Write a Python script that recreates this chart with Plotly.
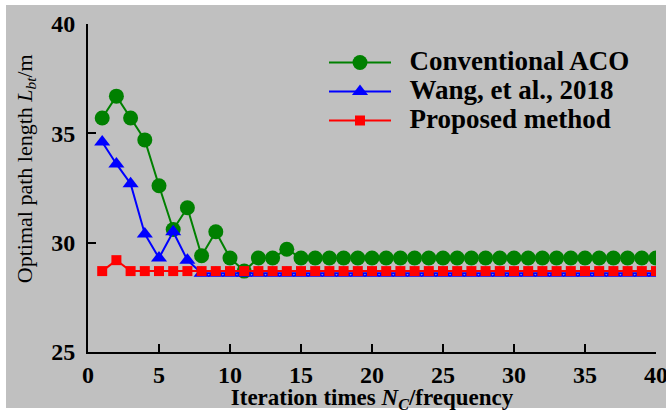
import plotly.graph_objects as go

iterations = list(range(1, 41))
conventional_aco = [35.7, 36.7, 35.7, 34.7, 32.6, 30.6, 31.6, 29.4, 30.5, 29.3,
                    28.7, 29.3, 29.3, 29.7] + [29.3] * 26
wang_2018 = [34.6, 33.6, 32.7, 30.4, 29.3, 30.5, 29.2] + [28.6] * 33
proposed = [28.7, 29.2] + [28.7] * 38
series_names = ["Conventional ACO", "Wang, et al., 2018", "Proposed method"]

x_ticks = [0, 5, 10, 15, 20, 25, 30, 35, 40]
y_ticks = [25, 30, 35, 40]

FONT = "Liberation Serif, Times New Roman, serif"
GRAY = "#C0C0C0"

def legend_name(s):
    return ('<span style="font-size:27px">&nbsp;&nbsp;<b>' + s + '</b></span>')

fig = go.Figure()
fig.add_trace(go.Scatter(x=iterations, y=conventional_aco, mode="lines+markers",
                         name=legend_name(series_names[0]),
                         line=dict(color="#008000", width=2),
                         marker=dict(symbol="circle", size=15, color="#008000")))
fig.add_trace(go.Scatter(x=iterations, y=wang_2018, mode="lines+markers",
                         name=legend_name(series_names[1]),
                         line=dict(color="#0000FF", width=2),
                         marker=dict(symbol="triangle-up", size=14, color="#0000FF")))
fig.add_trace(go.Scatter(x=iterations, y=proposed, mode="lines+markers",
                         name=legend_name(series_names[2]),
                         line=dict(color="#FF0000", width=2),
                         marker=dict(symbol="square", size=10, color="#FF0000")))

L, R, T, B = 88, 12, 24, 61
W, H = 668, 413
pw, ph = W - L - R, H - T - B

def px(x):
    return (x - L) / pw

def py(y):
    return (H - B - y) / ph

def white_rect(x0, x1, y0, y1):
    return dict(type="rect", xref="paper", yref="paper", layer="above",
                x0=px(x0), x1=px(x1), y0=py(y1), y1=py(y0),
                fillcolor="white", line=dict(width=0))

fig.update_layout(
    width=W, height=H,
    margin=dict(l=L, r=R, t=T, b=B),
    paper_bgcolor=GRAY,
    plot_bgcolor=GRAY,
    font=dict(family=FONT, color="black"),
    shapes=[white_rect(0, 6, 0, 413), white_rect(0, 668, 0, 5),
            white_rect(666, 668, 0, 413), white_rect(0, 668, 408, 413)],
    legend=dict(x=px(324), y=py(43), xanchor="left", yanchor="top",
                bgcolor="rgba(0,0,0,0)", font=dict(size=20, family=FONT),
                itemwidth=62),
    xaxis=dict(range=[0, 40], tickvals=x_ticks, ticks="inside", ticklen=8,
               tickwidth=2, showline=True, linecolor="black", linewidth=2,
               showgrid=False, zeroline=False, tickcolor="black",
               automargin=False,
               tickfont=dict(size=24, family=FONT, weight="bold"),
               title=dict(text="<b>Iteration times <i>N</i><sub><i>C</i></sub>/frequency</b>",
                          font=dict(size=23, family=FONT), standoff=2)),
    yaxis=dict(range=[25, 40], tickvals=y_ticks, ticks="inside", ticklen=8,
               tickwidth=2, showline=True, linecolor="black", linewidth=2,
               showgrid=False, zeroline=False, tickcolor="black",
               automargin=False,
               tickfont=dict(size=24, family=FONT, weight="bold"),
               ticklabelstandoff=6,
               title=dict(text="&nbsp;" * 7 + "Optimal path length <i>L</i><sub><i>bt</i></sub>/m",
                          font=dict(size=22, family=FONT), standoff=13)),
)
fig.write_html("out.html", config={"displayModeBar": False},
               post_script="document.body.style.margin='0';document.body.style.padding='0';")
